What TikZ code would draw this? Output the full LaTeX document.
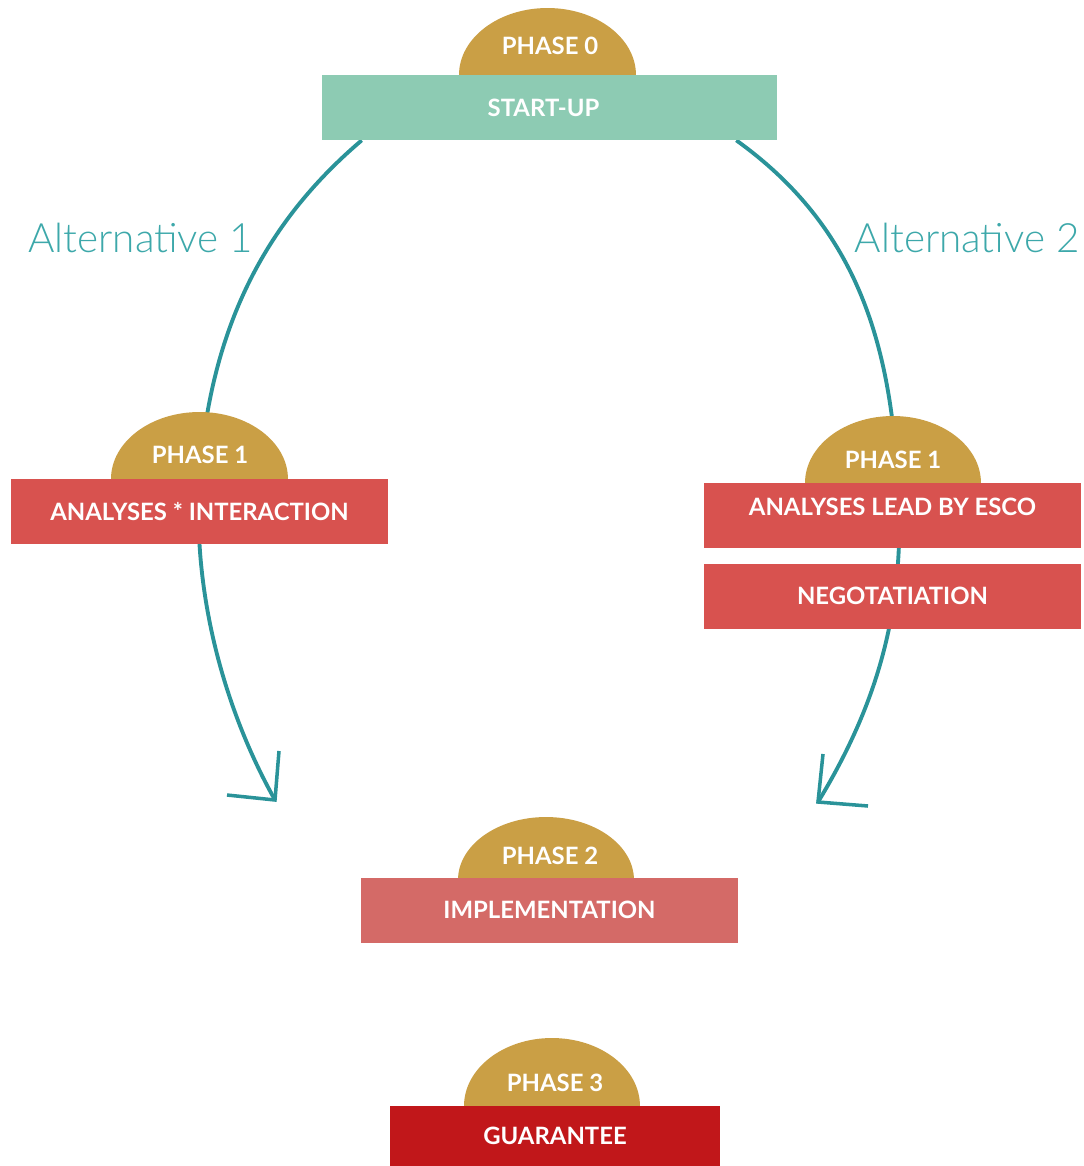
\documentclass[tikz,border=0pt]{standalone}
\usepackage{fontspec}
\setmainfont{Lato}
\newfontfamily\altfont{Lato Light}
\usetikzlibrary{positioning}
\definecolor{phaseGold}{HTML}{CA9F45}
\definecolor{startTeal}{HTML}{8DCBB3}
\definecolor{phaseRed}{HTML}{D8524F}
\definecolor{implRed}{HTML}{D46A67}
\definecolor{guaranteeRed}{HTML}{C1171A}
\definecolor{curveTeal}{HTML}{2A9399}
\definecolor{altTeal}{HTML}{3DA8AA}

\begin{document}
\begin{tikzpicture}[%%
  x=0.02cm,y=-0.02cm,%%
  curveStyle/.style={draw=curveTeal,line width=2.2pt},%%
  headStyle/.style={draw=curveTeal,line width=2pt},%%
  domeStyle/.style={fill=phaseGold},%%
  boxStyle/.style={minimum width=7.54cm,minimum height=1.3cm,inner sep=0pt,%%
    text=white,font=\bfseries\fontsize{13.6}{16}\selectfont},%%
  phaseStyle/.style={inner sep=0pt,text=white,font=\bfseries\fontsize{13.6}{16}\selectfont},%%
  altStyle/.style={inner sep=0pt,text=altTeal,font=\altfont\fontsize{23}{27}\selectfont}%%
]
%%
\useasboundingbox (0,0) rectangle (1084,1166);
%%
%% Free ends of the two alternatives.
\coordinate (tipLeft) at (275,800);
\coordinate (tipRight) at (818,802);
%%
%% The boxes (drawn later on top) need names for the curves.
\path (549.5,107.5) node[boxStyle,minimum width=9.1cm] (startup) {};
%%
%% Alternative 1.
\draw[curveStyle] ([xshift=0.8cm]startup.south west)
  .. controls (262,225) and (212,330) .. (200,470)
  .. controls (190,600) and (230,720) .. (tipLeft);
\draw[headStyle] ([shift={(-48,-5)}]tipLeft) -- (tipLeft) -- ([shift={(4,-49)}]tipLeft);
%% Alternative 2.
\draw[curveStyle] ([xshift=-0.82cm]startup.south east)
  .. controls (850,222) and (888,330) .. (897,470)
  .. controls (908,600) and (880,700) .. (tipRight);
\draw[headStyle] ([shift={(50,4)}]tipRight) -- (tipRight) -- ([shift={(5,-48)}]tipRight);
%%
%% The domes.
\fill[domeStyle] (459,75) arc[start angle=180,end angle=0,x radius=1.77cm,y radius=1.34cm];
\fill[domeStyle] (111,479) arc[start angle=180,end angle=0,x radius=1.77cm,y radius=1.34cm];
\fill[domeStyle] (805,483) arc[start angle=180,end angle=0,x radius=1.76cm,y radius=1.34cm];
\fill[domeStyle] (458,880) arc[start angle=180,end angle=0,x radius=1.76cm,y radius=1.26cm];
\fill[domeStyle] (464,1106) arc[start angle=180,end angle=0,x radius=1.76cm,y radius=1.36cm];
%%
%% The boxes.
\node[boxStyle,fill=startTeal,minimum width=9.1cm] (startupBox) at (startup) {\hspace{-0.24cm}START-UP};
\node[boxStyle,fill=phaseRed] (analysesInteraction) at (199.5,511.5) {ANALYSES * INTERACTION};
\node[boxStyle,fill=phaseRed,text depth=0.33cm] (analysesEsco) at (892.5,515.5) {ANALYSES LEAD BY ESCO};
\node[boxStyle,fill=phaseRed,below=0.3cm of analysesEsco] (negotiation) {NEGOTATIATION};
\node[boxStyle,fill=implRed] (implementation) at (549.5,910) {IMPLEMENTATION};
\node[boxStyle,fill=guaranteeRed,minimum width=6.6cm,minimum height=1.2cm] (guarantee) at (555,1136) {GUARANTEE};
%%
%% The phase labels.
\node[phaseStyle] (phaseZero) at (550,46) {PHASE 0};
\node[phaseStyle] (phaseOneLeft) at (200,455) {PHASE 1};
\node[phaseStyle] (phaseOneRight) at (893,460) {PHASE 1};
\node[phaseStyle] (phaseTwo) at (550,856) {PHASE 2};
\node[phaseStyle] (phaseThree) at (555,1083) {PHASE 3};
%%
%% The alternatives.
\node[altStyle,anchor=base west] (altOne) at (28,252) {Alternative 1};
\node[altStyle,anchor=base east] (altTwo) at (1080,252) {Alternative 2};
\end{tikzpicture}
\end{document}
